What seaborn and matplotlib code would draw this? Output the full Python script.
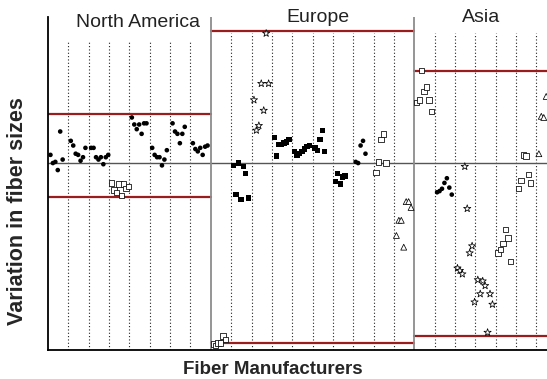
import pandas as pd
import matplotlib
matplotlib.use("Agg")
import matplotlib.pyplot as plt
import seaborn as sns

# regions, manufacturers per region, control limits
regions = ["North America", "Europe", "Asia"]
n_manuf = [8, 10, 7]
ucl = [4.2, 11.3, 7.9]
lcl = [-2.9, -15.4, -14.8]

# variation values per manufacturer
na_values = [
    [0.7, 0.0, 0.1, -0.6, 2.7, 0.3],
    [1.9, 1.5, 0.8, 0.7, 0.2, 0.5, 1.3],
    [1.3, 1.3, 0.5, 0.3, 0.5, -0.1, 0.5, 0.7],
    [-1.7, -2.3, -2.5, -1.8, -2.8, -1.8, -2.2, -2.0],
    [3.9, 3.3, 2.9, 3.3, 2.5, 3.4, 3.4],
    [1.3, 0.7, 0.5, 0.5, -0.2, 0.3, 1.1],
    [3.4, 2.7, 2.5, 1.7, 2.5, 3.1],
    [1.7, 1.2, 1.0, 1.3, 0.7, 1.4, 1.5],
]
na_kinds = ["dot", "dot", "dot", "open_square", "dot", "dot", "dot", "dot"]

eu_values = [
    [-15.5, -15.6, -15.4, -15.4, -14.8, -15.1],
    [-0.2, -2.7, 0.0, -3.1, -0.3, -0.9, -3.0],
    [5.4, 2.8, 3.2, 6.8, 4.5, 11.1, 6.8],
    [2.2, 0.6, 1.6, 1.6, 1.7, 1.8, 2.0],
    [1.0, 0.7, 0.8, 1.0, 1.2, 1.4, 1.5],
    [1.3, 1.1, 2.0, 2.8, 1.0],
    [-1.6, -0.9, -1.8, -1.2, -1.1],
    [0.1, 0.0, 1.5, 1.9, 0.8],
    [-0.8, 0.1, 2.0, 2.5, 0.0],
    [-6.2, -4.9, -4.9, -7.2, -3.3, -3.3, -3.8],
]
eu_kinds = ["open_square", "square", "star", "square", "square", "square",
            "square", "dot", "open_square", "triangle"]

as_values = [
    [5.2, 5.4, 7.9, 6.1, 6.5, 5.4, 4.4],
    [-2.5, -2.4, -2.2, -1.7, -1.3, -2.1, -2.7],
    [-9.0, -9.2, -9.5, -0.3, -3.9, -7.7, -7.1, -11.9],
    [-10.0, -11.2, -10.1, -10.5, -14.5, -11.2, -12.1],
    [-7.7, -7.4, -6.9, -5.7, -6.4, -8.4],
    [-2.2, -1.5, 0.7, 0.6, -1.0, -1.7],
    [0.8, 4.0, 3.9, 5.7],
]
as_kinds = ["open_square", "dot", "star", "star", "open_square",
            "open_square", "triangle"]

all_values = na_values + eu_values + as_values
all_kinds = na_kinds + eu_kinds + as_kinds

rows = []
for k, (vals, kind) in enumerate(zip(all_values, all_kinds)):
    for i, v in enumerate(vals):
        rows.append({"x": k + 0.12 + 0.12 * i, "value": v, "kind": kind})
df = pd.DataFrame(rows)

sns.set_style("white")
plt.rcParams["font.family"] = ["Liberation Sans", "DejaVu Sans"]

fig = plt.figure(figsize=(5.47, 3.79), dpi=100)
ax = fig.add_axes([48 / 547, 29 / 379, 499 / 547, 333 / 379])

total = sum(n_manuf)
ax.set_xlim(0, 24.52)
ax.set_ylim(-16, 12.5)

# centre line
ax.axhline(0, color="#555555", lw=1.0, zorder=2)

start = 0
dot_top = [10.5, 11.1, 11.1]
title_y = [12.05, 12.48, 12.48]
title_x = [4.4, 13.27, 21.3]
for r, name in enumerate(regions):
    end = start + n_manuf[r]
    # manufacturer separators
    for b in range(start + 1, end):
        ax.plot([b, b], [-16, dot_top[r]], color="#222222", lw=0.8,
                ls=(0, (1, 2)), zorder=1)
    ax.plot([start, end], [ucl[r], ucl[r]], color="#9b1c1c", lw=1.6, zorder=2)
    ax.plot([start, end], [lcl[r], lcl[r]], color="#9b1c1c", lw=1.6, zorder=2)
    if start > 0:
        ax.axvline(start, color="#8c8c8c", lw=1.3, zorder=2)
    ax.text(title_x[r], title_y[r], name, ha="center", va="center",
            fontsize=14, color="#222222", clip_on=False)
    start = end

filled = df[df["kind"].isin(["dot", "square"])]
opened = df[df["kind"].isin(["open_square", "star", "triangle"])]

sns.scatterplot(data=filled, x="x", y="value", style="kind", size="kind",
                markers={"dot": "o", "square": "s"},
                sizes={"dot": 11, "square": 15},
                color="black", linewidth=0, legend=False, ax=ax, zorder=3)
sns.scatterplot(data=opened, x="x", y="value", style="kind", size="kind",
                markers={"open_square": "s", "star": "*", "triangle": "^"},
                sizes={"open_square": 15, "star": 30, "triangle": 18},
                color="white", edgecolor="black", linewidth=0.55,
                legend=False, ax=ax, zorder=3)

ax.set_xticks([k + 0.5 for k in range(total)])
ax.set_yticks(range(-15, 13))
ax.tick_params(axis="both", direction="out", length=4, width=1,
               labelbottom=False, labelleft=False, color="black")
ax.tick_params(axis="x", length=5)
ax.set_xlabel("")
ax.set_ylabel("")
for s in ["top", "right"]:
    ax.spines[s].set_visible(False)
for s in ["left", "bottom"]:
    ax.spines[s].set_color("black")
    ax.spines[s].set_linewidth(1.3)

fig.text(273 / 547, 1 - 370 / 379, "Fiber Manufacturers", ha="center",
         va="center", fontsize=13.5, fontweight="bold")
fig.text(18 / 547, 1 - 211 / 379, "Variation in fiber sizes", ha="center",
         va="center", rotation=90, fontsize=15.5, fontweight="bold")

fig.savefig("out.png", dpi=100)
